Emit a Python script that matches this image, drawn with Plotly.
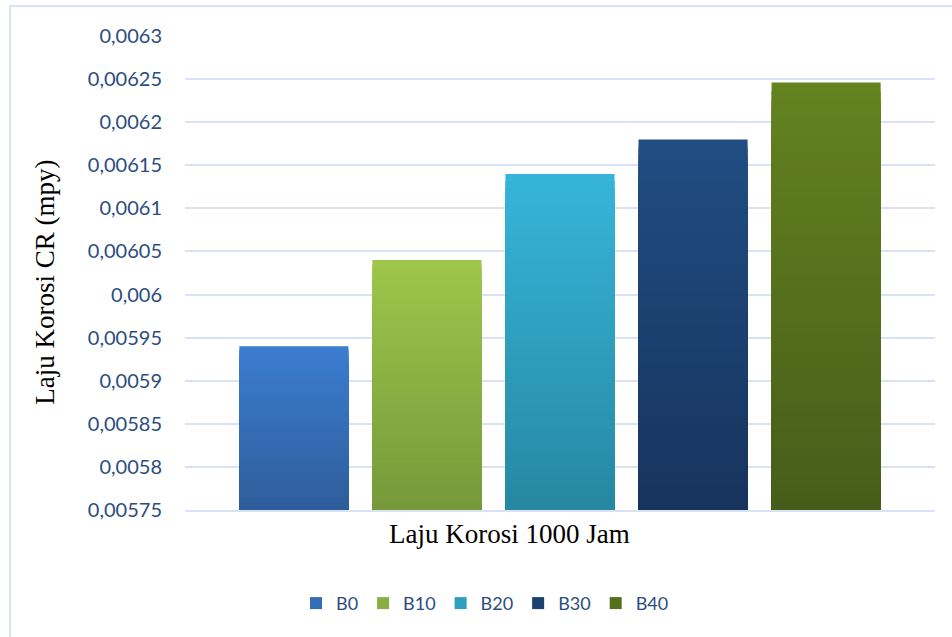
import plotly.graph_objects as go

# Corrosion rate after 1000 hours for each biodiesel blend
category = ["Laju Korosi 1000 Jam"]
series_names = ["B0", "B10", "B20", "B30", "B40"]
series_values = [0.00594, 0.00604, 0.00614, 0.00618, 0.006246]
# vertical gradient per bar: (top colour, bottom colour)
series_top_colors = ["#3b7dd0", "#9ec64b", "#36b5da", "#204d83", "#63831f"]
series_bottom_colors = ["#2e5d9a", "#76993a", "#2688a2", "#17345d", "#465d1a"]

x_title = "Laju Korosi 1000 Jam"
y_title = "Laju Korosi CR (mpy)"

y_min, y_max = 0.00575, 0.0063
tick_values = [0.00575, 0.0058, 0.00585, 0.0059, 0.00595, 0.006,
               0.00605, 0.0061, 0.00615, 0.0062, 0.00625, 0.0063]
tick_labels = ["0,00575", "0,0058", "0,00585", "0,0059", "0,00595", "0,006",
               "0,00605", "0,0061", "0,00615", "0,0062", "0,00625", "0,0063"]

N_SEG = 48


def hex_to_rgb(h):
    h = h.lstrip("#")
    return tuple(int(h[i:i + 2], 16) for i in (0, 2, 4))


def blend(c_bottom, c_top, t):
    a, b = hex_to_rgb(c_bottom), hex_to_rgb(c_top)
    return "rgb({},{},{})".format(*[round(a[i] + (b[i] - a[i]) * t) for i in range(3)])


fig = go.Figure()
for name, val, ctop, cbot in zip(series_names, series_values,
                                 series_top_colors, series_bottom_colors):
    step = (val - y_min) / N_SEG
    # stacked-over layers: the tallest (top colour) first, shorter ones drawn over it
    for k in reversed(range(N_SEG)):
        t = (k + 0.5) / N_SEG
        fig.add_trace(go.Bar(
            x=category, y=[(k + 1) * step], base=[y_min],
            name=name, legendgroup=name, offsetgroup=name,
            showlegend=(k == N_SEG // 2),
            marker=dict(color=blend(cbot, ctop, t), line=dict(width=0)),
            hoverinfo="skip",
        ))

fig.update_layout(
    width=952, height=637,
    margin=dict(l=185, r=17, t=36, b=127),
    paper_bgcolor="white", plot_bgcolor="white",
    barmode="group", bargap=0.113, bargroupgap=0.18,
    showlegend=True,
    legend=dict(orientation="h", x=0.40, xanchor="center", y=-0.158, yanchor="top",
                font=dict(family="Lato", size=18, color="#2c4d80"),
                itemwidth=30, traceorder="normal"),
    xaxis=dict(
        showticklabels=False, showgrid=False, zeroline=False,
        showline=True, linecolor="#d9e2f3", linewidth=2,
    ),
    yaxis=dict(
        range=[y_min, y_max], tickvals=tick_values, ticktext=tick_labels,
        showgrid=True, gridcolor="#d9e2f3", gridwidth=2,
        zeroline=False, showline=False, ticks="",
        ticklabelstandoff=22,
        tickfont=dict(family="Lato", size=20, color="#2c4d80"),
    ),
    annotations=[
        dict(text=x_title, xref="paper", yref="paper", x=0.432, y=-0.051,
             xanchor="center", yanchor="middle", showarrow=False,
             font=dict(family="Liberation Serif", size=27, color="black")),
        dict(text=y_title, xref="paper", yref="paper", x=-0.187, y=0.481,
             xanchor="center", yanchor="middle", textangle=-90, showarrow=False,
             font=dict(family="Liberation Serif", size=27, color="black")),
    ],
    shapes=[dict(type="rect", xref="paper", yref="paper",
                 x0=-0.2333, x1=1.05, y0=-0.3, y1=1.0633,
                 line=dict(color="#d9e2f3", width=2), fillcolor="rgba(0,0,0,0)",
                 layer="below")],
)

fig.write_html("out.html")
